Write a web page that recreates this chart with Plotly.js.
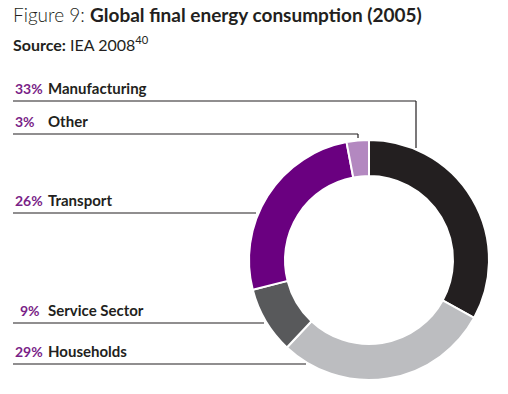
<!DOCTYPE html>
<html><head><meta charset="utf-8">
<script src="https://cdn.plot.ly/plotly-3.0.1.min.js"></script>
<style>html,body{margin:0;padding:0;background:#fff}#chart{width:508px;height:394px}</style>
</head><body><div id="chart"></div>
<script>
// Data, clockwise from 12 o'clock
const sectors = ["Manufacturing", "Households", "Service Sector", "Transport", "Other"];
const shares = [33, 29, 9, 26, 3];
const colors = ["#231f20", "#bcbdc0", "#58595b", "#6a0080", "#b388c0"];

// Label order (top to bottom on the left)
const labelOrder = ["Manufacturing", "Other", "Transport", "Service Sector", "Households"];
const labelPct = ["33%", "3%", "26%", "9%", "29%"];

const W = 508, H = 394;
const FONT = "Lato, 'Open Sans', sans-serif";
const px = x => x / W;
const py = y => 1 - y / H;

// leader-line layout (pixel coordinates of the page furniture)
const lineY = [101, 134, 213, 323, 364];
const lineEnd = [416, 358, 256, 264, 306];
const dropTo = [148, 138, null, null, null];
const pctX = [13, 13, 13, 42, 13];
const pctAnchor = ["left", "left", "left", "right", "left"];
const nameX = 46;

const shapes = [];
const annotations = [];
labelOrder.forEach((name, i) => {
  shapes.push({type: "line", xref: "paper", yref: "paper",
    x0: px(13), x1: px(lineEnd[i]), y0: py(lineY[i]), y1: py(lineY[i]),
    line: {color: "#231f20", width: 1.2}});
  if (dropTo[i] !== null) {
    shapes.push({type: "line", xref: "paper", yref: "paper",
      x0: px(lineEnd[i]), x1: px(lineEnd[i]), y0: py(lineY[i]), y1: py(dropTo[i]),
      line: {color: "#231f20", width: 1.2}});
  }
  annotations.push({xref: "paper", yref: "paper", x: px(pctX[i]), y: py(lineY[i] - 2),
    xanchor: pctAnchor[i], yanchor: "bottom", showarrow: false,
    text: `<b>${labelPct[i]}</b>`,
    font: {family: FONT, size: 14, color: "#7a1f88"}});
  annotations.push({xref: "paper", yref: "paper", x: px(nameX), y: py(lineY[i] - 2),
    xanchor: "left", yanchor: "bottom", showarrow: false,
    text: `<b>${name}</b>`,
    font: {family: FONT, size: 15, color: "#231f20"}});
});

annotations.push({xref: "paper", yref: "paper", x: px(11), y: py(28), xanchor: "left", yanchor: "bottom",
  showarrow: false, text: "Figure 9: <b>Global final energy consumption (2005)</b>",
  font: {family: FONT, size: 19, color: "#231f20", weight: 300}});
annotations.push({xref: "paper", yref: "paper", x: px(11), y: py(56), xanchor: "left", yanchor: "bottom",
  showarrow: false, text: "<b>Source:</b> IEA 2008<sup>40</sup>",
  font: {family: FONT, size: 16, color: "#231f20"}});

const trace = {
  type: "pie", values: shares, labels: sectors, sort: false, direction: "clockwise", rotation: 0,
  hole: 0.7, textinfo: "none", hoverinfo: "label+percent",
  marker: {colors: colors, line: {color: "#ffffff", width: 2}},
  domain: {x: [px(249), px(489)], y: [py(380), py(140)]}
};

Plotly.newPlot("chart", [trace], {
  width: W, height: H, margin: {l: 0, r: 0, t: 0, b: 0}, showlegend: false,
  paper_bgcolor: "#fff", shapes: shapes, annotations: annotations
}, {displayModeBar: false, staticPlot: true});
</script></body></html>
